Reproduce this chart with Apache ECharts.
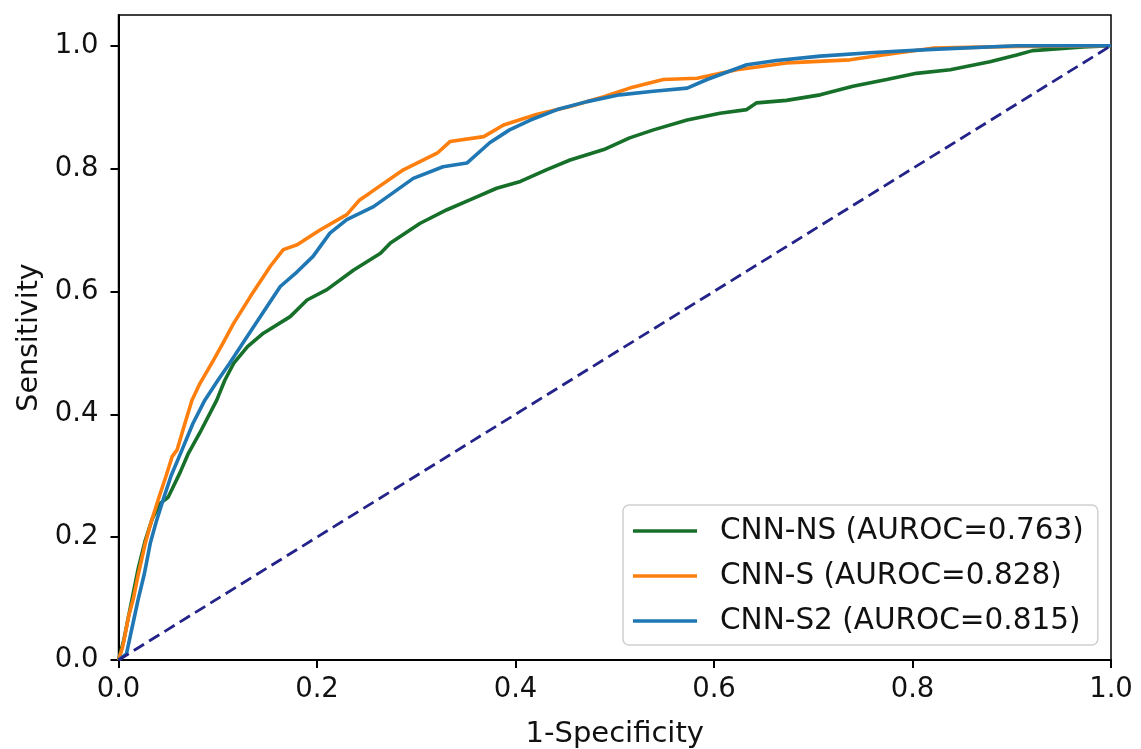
<!DOCTYPE html>
<html>
<head>
<meta charset="utf-8">
<script src="https://cdn.jsdelivr.net/npm/echarts@6/dist/echarts.min.js"></script>
<style>
  html, body { margin: 0; padding: 0; background: #fff; }
  #rocChart { width: 1141px; height: 749px; }
</style>
</head>
<body>
<div id="rocChart"></div>
<script>
// ROC points [1-specificity, sensitivity]
var cnnNS = [
  [0, 0], [0.005, 0.03], [0.010, 0.07], [0.015, 0.11], [0.020, 0.15], [0.027, 0.195],
  [0.034, 0.23], [0.042, 0.255], [0.050, 0.265], [0.056, 0.285], [0.062, 0.305],
  [0.070, 0.335], [0.082, 0.37], [0.099, 0.423], [0.107, 0.455], [0.116, 0.483],
  [0.130, 0.51], [0.146, 0.532], [0.173, 0.559], [0.190, 0.586], [0.210, 0.603],
  [0.237, 0.635], [0.264, 0.662], [0.274, 0.679], [0.304, 0.711], [0.331, 0.733],
  [0.354, 0.749], [0.381, 0.768], [0.405, 0.779], [0.431, 0.798], [0.455, 0.814],
  [0.489, 0.831], [0.515, 0.850], [0.539, 0.863], [0.573, 0.879], [0.606, 0.890],
  [0.633, 0.896], [0.643, 0.907], [0.673, 0.911], [0.707, 0.920], [0.740, 0.934],
  [0.774, 0.945], [0.804, 0.955], [0.838, 0.961], [0.878, 0.974], [0.905, 0.985],
  [0.921, 0.992], [0.972, 0.998], [1, 1]
];
var cnnS = [
  [0, 0], [0.004, 0.02], [0.0065, 0.04], [0.010, 0.07], [0.015, 0.10], [0.020, 0.14],
  [0.027, 0.19], [0.033, 0.225], [0.040, 0.261], [0.048, 0.30], [0.054, 0.331],
  [0.059, 0.342], [0.066, 0.38], [0.074, 0.423], [0.082, 0.45], [0.096, 0.489],
  [0.105, 0.515], [0.116, 0.548], [0.133, 0.592], [0.153, 0.641], [0.166, 0.668],
  [0.180, 0.676], [0.203, 0.700], [0.230, 0.725], [0.243, 0.749], [0.253, 0.760],
  [0.287, 0.798], [0.321, 0.825], [0.334, 0.844], [0.368, 0.852], [0.388, 0.871],
  [0.421, 0.888], [0.455, 0.901], [0.489, 0.917], [0.515, 0.931], [0.549, 0.945],
  [0.583, 0.947], [0.623, 0.961], [0.673, 0.972], [0.737, 0.977], [0.770, 0.985],
  [0.820, 0.996], [0.905, 0.999], [1, 1]
];
var cnnS2 = [
  [0, 0], [0.008, 0.01], [0.012, 0.04], [0.016, 0.07], [0.020, 0.10], [0.026, 0.14],
  [0.032, 0.19], [0.038, 0.225], [0.045, 0.261], [0.053, 0.30], [0.064, 0.342],
  [0.075, 0.385], [0.087, 0.423], [0.100, 0.455], [0.112, 0.483], [0.127, 0.52],
  [0.143, 0.559], [0.163, 0.608], [0.180, 0.632], [0.196, 0.657], [0.213, 0.695],
  [0.230, 0.717], [0.257, 0.738], [0.297, 0.784], [0.327, 0.803], [0.351, 0.809],
  [0.374, 0.842], [0.394, 0.863], [0.415, 0.879], [0.442, 0.896], [0.472, 0.909],
  [0.505, 0.920], [0.539, 0.926], [0.573, 0.931], [0.593, 0.945], [0.633, 0.969],
  [0.663, 0.976], [0.707, 0.983], [0.761, 0.989], [0.820, 0.994], [0.905, 1.0], [1, 1]
];
var chance = [[0, 0], [1, 1]];
var seriesNames = ['CNN-NS (AUROC=0.763)', 'CNN-S (AUROC=0.828)', 'CNN-S2 (AUROC=0.815)'];
var tickValues = [0, 0.2, 0.4, 0.6, 0.8, 1.0];

var myChart = echarts.init(document.getElementById('rocChart'));
var font = 'DejaVu Sans';

function rocLine(name, data, color) {
  return {
    name: name,
    type: 'line',
    data: data,
    showSymbol: false,
    symbol: 'none',
    lineStyle: { color: color, width: 3.6 },
    itemStyle: { color: color }
  };
}

var option = {
  animation: false,
  backgroundColor: '#fff',
  textStyle: { fontFamily: font },
  grid: {
    left: 118.5, right: 30, top: 15, bottom: 89,
    outerBoundsMode: 'none',
    containLabel: false,
    show: true, borderColor: '#000', borderWidth: 1.5
  },
  legend: {
    data: seriesNames,
    orient: 'vertical',
    left: 623, top: 505,
    padding: [11, 14, 9, 10],
    itemGap: 15,
    itemWidth: 64, itemHeight: 3.5,
    icon: 'rect',
    backgroundColor: '#fff',
    borderColor: '#d0d0d0',
    borderWidth: 1.5,
    borderRadius: 6,
    textStyle: { fontSize: 29.5, color: '#111', fontFamily: font, padding: [0, 0, 0, 18] }
  },
  xAxis: {
    type: 'value',
    min: 0, max: 1, interval: 0.2,
    name: '1-Specificity',
    nameLocation: 'middle',
    nameGap: 60,
    nameTextStyle: { fontSize: 29, color: '#111', fontFamily: font },
    splitLine: { show: false },
    axisLine: { show: true, lineStyle: { color: '#000', width: 2 } },
    axisTick: { show: true, length: 8, lineStyle: { color: '#000', width: 2 } },
    axisLabel: {
      margin: 16, fontSize: 27.5, color: '#111', fontFamily: font,
      formatter: function (v) { return v.toFixed(1); }
    }
  },
  yAxis: {
    type: 'value',
    min: 0, max: 1.05,
    name: 'Sensitivity',
    nameLocation: 'middle',
    nameGap: 74,
    nameTextStyle: { fontSize: 28.5, color: '#111', fontFamily: font },
    splitLine: { show: false },
    axisLine: { show: true, lineStyle: { color: '#000', width: 2 } },
    axisTick: { show: true, length: 8, customValues: tickValues, lineStyle: { color: '#000', width: 2 } },
    axisLabel: {
      margin: 20, fontSize: 27.5, color: '#111', fontFamily: font,
      customValues: tickValues,
      formatter: function (v) { return v.toFixed(1); }
    }
  },
  series: [
    rocLine(seriesNames[0], cnnNS, '#17702a'),
    rocLine(seriesNames[1], cnnS, '#ff7f0e'),
    rocLine(seriesNames[2], cnnS2, '#1f77b4'),
    {
      name: 'chance',
      type: 'line',
      data: chance,
      showSymbol: false,
      symbol: 'none',
      lineStyle: { color: '#23238a', width: 2.8, type: [12, 6] }
    }
  ]
};

myChart.setOption(option);
window.addEventListener('resize', myChart.resize);
</script>
</body>
</html>
